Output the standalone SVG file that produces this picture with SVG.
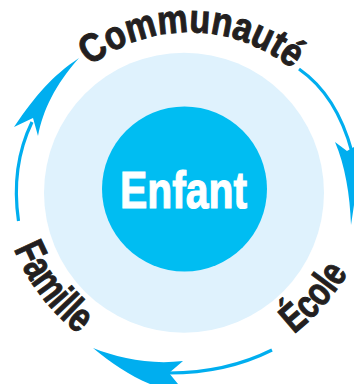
<svg xmlns="http://www.w3.org/2000/svg" width="354" height="384" viewBox="0 0 354 384">
<style>
.lbl{font-family:"Liberation Sans",Arial,sans-serif;font-weight:700;fill:#231f20;stroke:#231f20;stroke-width:1}
.arr{fill:#00aeef;stroke:none}
.ln{fill:none;stroke:#00aeef;stroke-width:3.2}
</style>
<defs>
<path id="pc" d="M 90 66 A 163 163 0 0 1 299 75"/>
<path id="pf" d="M 14 249 Q 35 300 81 336"/>
<path id="pe" d="M 294 334 Q 325 310 348 273"/>
</defs>
<rect width="354" height="384" fill="#fff"/>
<g id="outer"><circle cx="184" cy="192.7" r="140" fill="#dff2fd"/></g>
<g id="enfant"><circle cx="184.5" cy="189" r="82.5" fill="#00bdf2"/>
<text x="120" y="208" textLength="127" lengthAdjust="spacingAndGlyphs" style="font-family:'Liberation Sans',Arial,sans-serif;font-weight:700;font-size:52px;fill:#fff;stroke:#fff;stroke-width:1.200">Enfant</text></g>
<g id="connectors">
<path class="ln" d="M18.500 221 C14 190 16 155 32 122"/>
<path class="arr" d="M79 58 C52 76 36 95 14 127 L33 118 L38 136 C43 110 55 85 79 58Z"/>
<path class="ln" d="M299 69 C325 87 342 115 352 152"/>
<path class="arr" d="M335 142 L347 151 L354 147 L354 205 L351 225 C350 195 345 165 335 142Z"/>
<path class="ln" d="M272 350 C240 366 205 373 169 373"/>
<path class="arr" d="M93 348 C118 358 150 365 183 361 L169 373 L178 384 L150 384 C130 376 110 362 93 348Z"/>
</g>
<g id="communaute"><text class="lbl" font-size="40"><textPath href="#pc" textLength="218" lengthAdjust="spacingAndGlyphs">Communauté</textPath></text></g>
<g id="famille"><text class="lbl" font-size="42"><textPath href="#pf" textLength="108" lengthAdjust="spacingAndGlyphs">Famille</textPath></text></g>
<g id="ecole"><text class="lbl" font-size="40"><textPath href="#pe" textLength="82" lengthAdjust="spacingAndGlyphs">École</textPath></text></g>
</svg>
